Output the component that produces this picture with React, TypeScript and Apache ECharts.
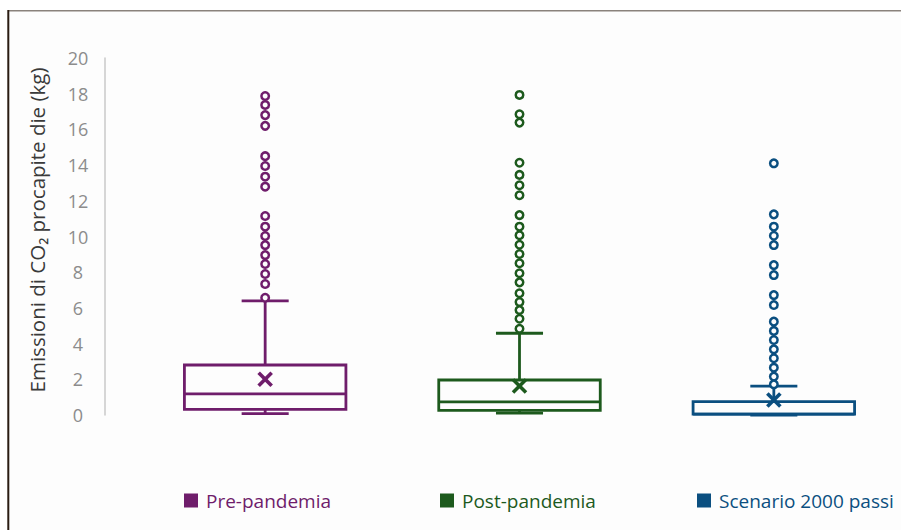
import React, { useEffect, useRef } from 'react';
import * as echarts from 'echarts';

const categories = ['Pre-pandemia', 'Post-pandemia', 'Scenario 2000 passi'];
const colors = ['#6f1d6b', '#1d5a1d', '#0b4f80'];
// [min, Q1, median, Q3, max]
const boxPre = [0.08, 0.32, 1.18, 2.8, 6.39];
const boxPost = [0.1, 0.26, 0.73, 1.96, 4.58];
const boxScenario = [0.0, 0.05, 0.05, 0.75, 1.62];
const means = [2.0, 1.62, 0.84];
const outliersPre = [17.87, 17.37, 16.8, 16.2, 14.5, 13.95, 13.35, 12.79, 11.15, 10.55, 10.03, 9.52, 8.96, 8.46, 7.9, 7.34, 6.57];
const outliersPost = [17.93, 16.85, 16.38, 14.13, 13.45, 12.87, 12.31, 11.2, 10.55, 10.07, 9.54, 9.02, 8.5, 7.94, 7.43, 6.82, 6.33, 5.88, 5.39, 4.83];
const outliersScenario = [14.1, 11.24, 10.55, 10.04, 9.52, 8.4, 7.84, 6.72, 6.16, 5.23, 4.71, 4.2, 3.68, 3.18, 2.65, 2.15, 1.72];
const yMin = 0;
const yMax = 20;
const yInterval = 2;
const yTitle = 'Emissioni di CO₂ procapite die (kg)';

const boxes = [boxPre, boxPost, boxScenario];
const outliers = [outliersPre, outliersPost, outliersScenario];
const FONT = "'Open Sans', 'Noto Sans', sans-serif";

export default function App() {
  const ref = useRef<HTMLDivElement>(null);
  useEffect(() => {
    if (!ref.current) return;
    const chart = echarts.init(ref.current, null, { renderer: 'svg' });

    const renderBox = (params: any, api: any) => {
      const idx = api.value(0);
      const vals = [1, 2, 3, 4, 5, 6].map((i) => api.value(i));
      const [mn, q1, med, q3, mx, mean] = vals;
      const c = api.visual('color');
      const band = api.size([1, 0])[0];
      const boxW = band * 0.635;
      const capW = band * 0.185;
      const p = (v: number) => api.coord([idx, v]);
      const cx = p(med)[0];
      const yMn = p(mn)[1], yQ1 = p(q1)[1], yMed = p(med)[1], yQ3 = p(q3)[1], yMx = p(mx)[1], yMean = p(mean)[1];
      const st = { stroke: c, lineWidth: 2.8, fill: null };
      const xs = 6.5;
      return {
        type: 'group',
        children: [
          { type: 'line', shape: { x1: cx, y1: yQ3, x2: cx, y2: yMx }, style: st },
          { type: 'line', shape: { x1: cx - capW / 2, y1: yMx, x2: cx + capW / 2, y2: yMx }, style: st },
          { type: 'line', shape: { x1: cx, y1: yQ1, x2: cx, y2: yMn }, style: st },
          { type: 'line', shape: { x1: cx - capW / 2, y1: yMn, x2: cx + capW / 2, y2: yMn }, style: st },
          { type: 'rect', shape: { x: cx - boxW / 2, y: yQ3, width: boxW, height: yQ1 - yQ3 }, style: { stroke: c, lineWidth: 2.8, fill: 'rgba(0,0,0,0)' } },
          { type: 'line', shape: { x1: cx - boxW / 2, y1: yMed, x2: cx + boxW / 2, y2: yMed }, style: st },
          { type: 'line', shape: { x1: cx - xs, y1: yMean - xs, x2: cx + xs, y2: yMean + xs }, style: { stroke: c, lineWidth: 3.6 } },
          { type: 'line', shape: { x1: cx - xs, y1: yMean + xs, x2: cx + xs, y2: yMean - xs }, style: { stroke: c, lineWidth: 3.6 } },
        ],
      };
    };

    const series: any[] = [];
    categories.forEach((name, i) => {
      series.push({
        type: 'custom',
        name,
        renderItem: renderBox,
        itemStyle: { color: colors[i] },
        encode: { x: 0, y: [1, 2, 3, 4, 5, 6] },
        data: [[i, ...boxes[i], means[i]]],
        z: 3,
      });
      series.push({
        type: 'scatter',
        name,
        symbol: 'circle',
        symbolSize: 7.5,
        itemStyle: { color: '#fdfdfd', borderColor: colors[i], borderWidth: 2.5, opacity: 1 },
        data: outliers[i].map((v) => [i, v]),
        z: 4,
      });
    });

    const legendLefts = [184, 440, 697];
    const legends = categories.map((name, i) => ({
      show: true,
      left: legendLefts[i],
      top: 491,
      padding: 0,
      icon: 'rect',
      itemWidth: 14,
      itemHeight: 14,
      selectedMode: false,
      data: [{ name, itemStyle: { color: colors[i] } }],
      textStyle: { color: colors[i], fontSize: 19, fontFamily: FONT, padding: [0, 0, 0, 3] },
    }));

    chart.setOption({
      animation: false,
      backgroundColor: '#ffffff',
      graphic: [
        { type: 'rect', z: -10, shape: { x: 8, y: 10, width: 893, height: 520 }, style: { fill: '#fdfdfd' } },
        { type: 'line', z: -9, shape: { x1: 8, y1: 10.8, x2: 901, y2: 10.8 }, style: { stroke: '#8a827c', lineWidth: 1.6 } },
        { type: 'line', z: -9, shape: { x1: 8.3, y1: 10, x2: 8.3, y2: 530 }, style: { stroke: '#2a1c12', lineWidth: 2 } },
        {
          type: 'text',
          z: 5,
          x: 37,
          y: 230,
          rotation: Math.PI / 2,
          style: { text: yTitle, fill: '#3a3a3a', fontSize: 20.5, fontFamily: FONT, align: 'center', verticalAlign: 'middle' },
        },
      ],
      legend: legends,
      grid: { left: 138, top: 58, width: 765, height: 357, containLabel: false },
      xAxis: {
        type: 'category',
        data: categories,
        boundaryGap: true,
        axisLine: { show: false },
        axisTick: { show: false },
        axisLabel: { show: false },
        splitLine: { show: false },
      },
      yAxis: {
        type: 'value',
        min: yMin,
        max: yMax,
        interval: yInterval,
        offset: 33,
        axisLine: { show: true, lineStyle: { color: '#c8c8c8', width: 1.5 } },
        axisTick: { show: false },
        splitLine: { show: false },
        axisLabel: { color: '#8c8c8c', fontSize: 18, fontFamily: FONT, margin: 27, align: 'center' },
      },
      series,
    });
    return () => chart.dispose();
  }, []);
  return <div ref={ref} style={{ position: 'absolute', left: 0, top: 0, width: 901, height: 530 }} />;
}
